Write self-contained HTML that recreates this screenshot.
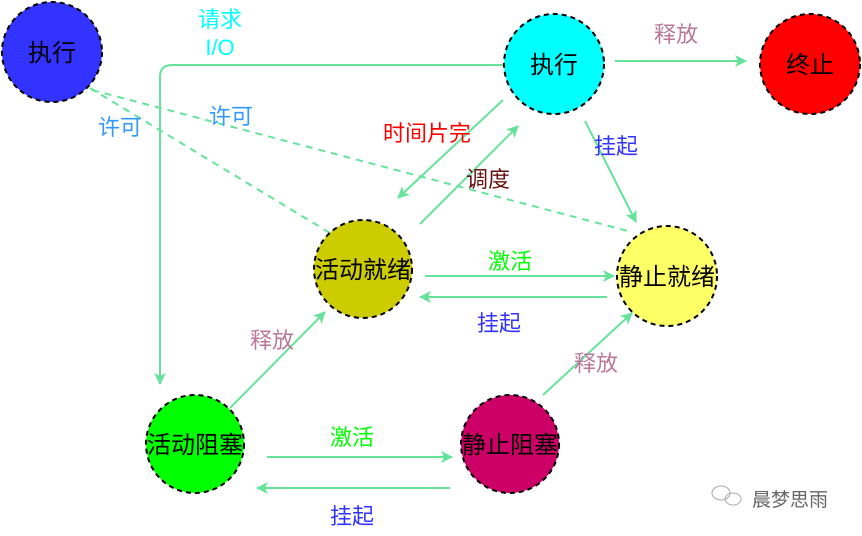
<!DOCTYPE html>
<html><head><meta charset="utf-8"><style>
html,body{margin:0;padding:0;background:#fff;}
svg{display:block;}
text{font-family:"Liberation Sans","Noto Sans CJK SC",sans-serif;font-size:22px;}
.n{font-size:24px;}
</style></head><body>
<svg width="862" height="536" viewBox="0 0 862 536" xmlns="http://www.w3.org/2000/svg">
<defs>
<marker id="a" viewBox="0 0 12 12" refX="11" refY="6" markerWidth="12" markerHeight="12" markerUnits="userSpaceOnUse" orient="auto">
<path d="M0,0 L12,6 L0,12 L3,6 Z" fill="#66e39a"/>
</marker>
</defs>
<g stroke="#66e39a" stroke-width="2" fill="none">
<line x1="90" y1="88" x2="330" y2="233" stroke-dasharray="7,6"/>
<line x1="92" y1="90" x2="628" y2="231" stroke-dasharray="7,6"/>
<path d="M503,65 L172,65 Q160,65 160,77 L160,384" marker-end="url(#a)"/>
<line x1="615" y1="61" x2="746" y2="61" marker-end="url(#a)"/>
<line x1="503" y1="100" x2="398" y2="198" marker-end="url(#a)"/>
<line x1="420" y1="224" x2="518" y2="126" marker-end="url(#a)"/>
<line x1="585" y1="121" x2="636" y2="222" marker-end="url(#a)"/>
<line x1="425" y1="276" x2="614" y2="276" marker-end="url(#a)"/>
<line x1="607" y1="297" x2="420" y2="297" marker-end="url(#a)"/>
<line x1="230" y1="408" x2="325" y2="312" marker-end="url(#a)"/>
<line x1="543" y1="395" x2="632" y2="313" marker-end="url(#a)"/>
<line x1="267" y1="457" x2="452" y2="457" marker-end="url(#a)"/>
<line x1="450" y1="488" x2="257" y2="488" marker-end="url(#a)"/>
</g>
<g stroke="#000" stroke-width="2" stroke-dasharray="5,4">
<circle cx="52" cy="52" r="50" fill="#3333ff"/>
<circle cx="554" cy="64" r="50" fill="#00ffff"/>
<circle cx="810" cy="64" r="50" fill="#ff0000"/>
<circle cx="363" cy="269" r="49" fill="#cccc00"/>
<circle cx="667" cy="276" r="50" fill="#ffff66"/>
<circle cx="195" cy="444" r="49" fill="#00ff00"/>
<circle cx="510" cy="444" r="49" fill="#cc0066"/>
</g>
<g text-anchor="middle" fill="#000" class="n">
<text class="n" x="52" y="61">执行</text>
<text class="n" x="554" y="73">执行</text>
<text class="n" x="810" y="73">终止</text>
<text class="n" x="363" y="278">活动就绪</text>
<text class="n" x="667" y="285">静止就绪</text>
<text class="n" x="195" y="453">活动阻塞</text>
<text class="n" x="510" y="453">静止阻塞</text>
</g>
<g text-anchor="middle">
<text x="220" y="27" fill="#00ffff">请求</text>
<text x="220" y="55" fill="#00ffff">I/O</text>
<text x="120" y="135" fill="#3399ff">许可</text>
<text x="231" y="124" fill="#3399ff">许可</text>
<text x="676" y="42" fill="#bb7799">释放</text>
<text x="427" y="141" fill="#ff0000">时间片完</text>
<text x="488" y="187" fill="#661111">调度</text>
<text x="616" y="154" fill="#3333ff">挂起</text>
<text x="510" y="269" fill="#00ff00">激活</text>
<text x="499" y="331" fill="#3333ff">挂起</text>
<text x="272" y="348" fill="#bb7799">释放</text>
<text x="596" y="371" fill="#bb7799">释放</text>
<text x="352" y="445" fill="#00ff00">激活</text>
<text x="352" y="524" fill="#3333ff">挂起</text>
</g>
<g stroke="#aaa" stroke-width="1" fill="none">
<ellipse cx="721" cy="493" rx="9" ry="7"/>
<ellipse cx="733" cy="499" rx="8" ry="6"/>
</g>
<text x="752" y="506" fill="#666" style="font-size:19px">晨梦思雨</text>
</svg>
</body></html>
